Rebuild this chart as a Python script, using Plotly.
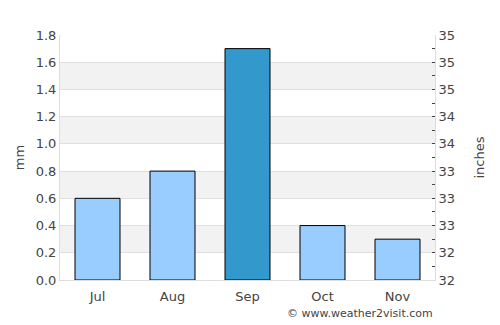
import plotly.graph_objects as go

months = ["Jul", "Aug", "Sep", "Oct", "Nov"]
rain_mm = [0.6, 0.8, 1.7, 0.4, 0.3]
bar_colors = ["#99ccff", "#99ccff", "#3399cc", "#99ccff", "#99ccff"]
left_ticks = [0.0, 0.2, 0.4, 0.6, 0.8, 1.0, 1.2, 1.4, 1.6, 1.8]
right_tickvals = [0.0, 0.1, 0.2, 0.3, 0.4, 0.5, 0.6, 0.7, 0.8, 0.9, 1.0, 1.1, 1.2, 1.3, 1.4, 1.5, 1.6, 1.7, 1.8]
right_ticktext = ["32", "", "32", "", "33", "", "33", "", "33", "", "34", "", "34", "", "35", "", "35", "", "35"]
band_ranges = [(0.2, 0.4), (0.6, 0.8), (1.0, 1.2), (1.4, 1.6)]

font = dict(family="DejaVu Sans", size=13, color="#444444")

fig = go.Figure()
fig.add_trace(go.Bar(
    x=months, y=rain_mm, width=0.6,
    marker=dict(color=bar_colors, line=dict(color="#000000", width=1)),
    hoverinfo="skip",
))
fig.add_trace(go.Scatter(x=months, y=rain_mm, yaxis="y2", mode="markers",
                         marker=dict(opacity=0), hoverinfo="skip", showlegend=False))

shapes = []
for lo, hi in band_ranges:
    shapes.append(dict(type="rect", xref="paper", yref="y", x0=0, x1=1, y0=lo, y1=hi,
                       fillcolor="#f2f2f2", line=dict(width=0), layer="below"))

fig.update_layout(
    width=500, height=325,
    margin=dict(l=60, r=65, t=35, b=45),
    paper_bgcolor="white", plot_bgcolor="white",
    showlegend=False,
    font=font,
    shapes=shapes,
    bargap=0.4,
    xaxis=dict(showgrid=False, showline=True, linecolor="#dddddd", linewidth=1,
               ticks="", tickfont=font, mirror=False, ticklabelstandoff=4),
    yaxis=dict(range=[0, 1.8], tickvals=left_ticks, ticktext=[f"{v:.1f}" for v in left_ticks],
               showgrid=True, gridcolor="#e0e0e0", gridwidth=1,
               showline=True, linecolor="#dddddd", linewidth=1, zeroline=False,
               ticks="", ticklen=0, title=dict(text="mm", font=font, standoff=8), tickfont=font),
    yaxis2=dict(range=[0, 1.8], overlaying="y", side="right",
                tickvals=right_tickvals, ticktext=right_ticktext,
                showgrid=False, showline=True, linecolor="#dddddd", linewidth=1, zeroline=False,
                ticks="inside", ticklen=3, tickcolor="#444444", tickwidth=1,
                title=dict(text="inches", font=font, standoff=20), tickfont=font),
    annotations=[dict(text="© www.weather2visit.com", xref="paper", yref="paper",
                      x=1, y=0, yshift=-33, xanchor="right", yanchor="middle",
                      showarrow=False, font=dict(family="DejaVu Sans", size=11, color="#444444"))],
)

fig.write_html("out.html")
